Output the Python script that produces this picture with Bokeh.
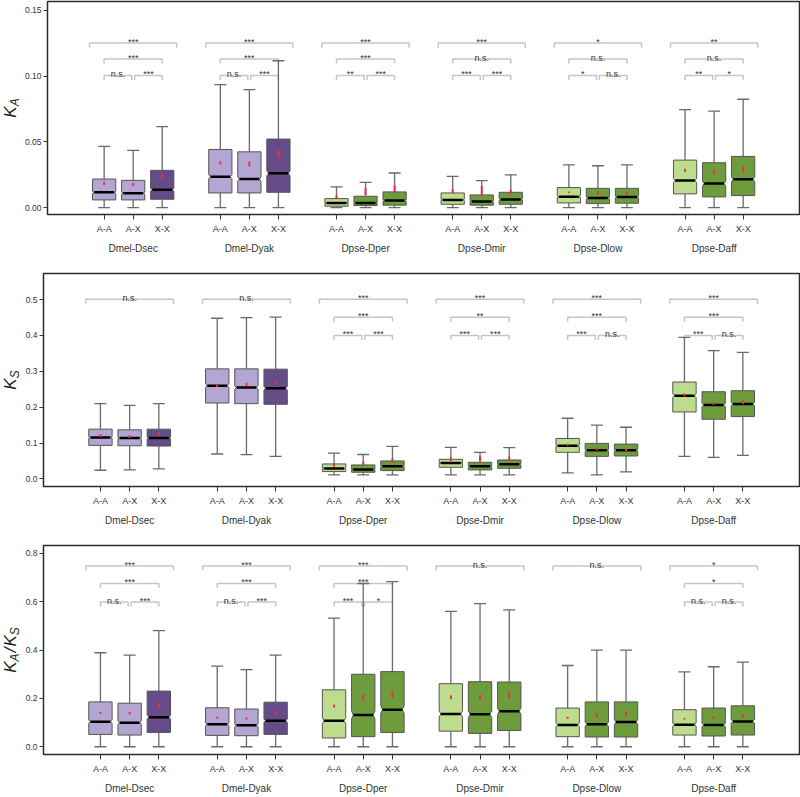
import numpy as np
from bokeh.plotting import figure
from bokeh.models import Range1d, FixedTicker, LinearAxis, NumeralTickFormatter
from bokeh.layouts import column, row
from bokeh.embed import file_html
from bokeh.resources import INLINE
from bokeh.core.properties import value

# ---------------- data ----------------
pairs = ["Dmel-Dsec", "Dmel-Dyak", "Dpse-Dper", "Dpse-Dmir", "Dpse-Dlow", "Dpse-Daff"]
classes = ["A-A", "A-X", "X-X"]
n_genes = [1000, 1000, 600, 600, 600, 600]   # per species pair (estimated, for notches)

# K_A
ka_lo = [0.0] * 18
ka_q1 = [0.0058, 0.0058, 0.0063, 0.0111, 0.0111, 0.0116, 0.0010, 0.0015, 0.0018,
         0.0025, 0.0018, 0.0025, 0.0035, 0.0030, 0.0033, 0.0104, 0.0081, 0.0091]
ka_med = [0.0116, 0.0109, 0.0136, 0.0235, 0.0217, 0.0260, 0.0035, 0.0035, 0.0053,
          0.0058, 0.0045, 0.0061, 0.0083, 0.0073, 0.0081, 0.0205, 0.0182, 0.0215]
ka_q3 = [0.0217, 0.0207, 0.0283, 0.0442, 0.0424, 0.0521, 0.0068, 0.0086, 0.0119,
         0.0111, 0.0096, 0.0116, 0.0152, 0.0146, 0.0146, 0.0361, 0.0341, 0.0389]
ka_hi = [0.0465, 0.0435, 0.0616, 0.0935, 0.0897, 0.1117, 0.0157, 0.0192, 0.0263,
         0.0237, 0.0205, 0.0248, 0.0324, 0.0318, 0.0324, 0.0745, 0.0733, 0.0824]
ka_mean = [0.0184, 0.0177, 0.0237, 0.0339, 0.0333, 0.0407, 0.0078, 0.0121, 0.0142,
           0.0124, 0.0129, 0.0118, 0.0116, 0.0111, 0.0111, 0.0283, 0.0273, 0.0288]
ka_ci = [0.0012, 0.0012, 0.0020, 0.0012, 0.0018, 0.0028, 0.0015, 0.0025, 0.0025,
         0.0018, 0.0035, 0.0018, 0.0006, 0.0012, 0.0012, 0.0012, 0.0020, 0.0022]
ka_sig = [["***", "***", "n.s.", "***"], ["***", "***", "n.s.", "***"],
          ["***", "***", "**", "***"], ["***", "n.s.", "***", "***"],
          ["*", "n.s.", "*", "n.s."], ["**", "n.s.", "**", "*"]]

# K_S
ks_lo = [0.0240, 0.0250, 0.0277, 0.0693, 0.0675, 0.0628, 0.0110, 0.0110, 0.0110,
         0.0110, 0.0110, 0.0110, 0.0166, 0.0110, 0.0194, 0.0628, 0.0600, 0.0656]
ks_q1 = [0.0933, 0.0924, 0.0915, 0.2116, 0.2098, 0.2080, 0.0203, 0.0185, 0.0231,
         0.0323, 0.0250, 0.0296, 0.0740, 0.0628, 0.0638, 0.1866, 0.1663, 0.1737]
ks_med = [0.1155, 0.1137, 0.1137, 0.2597, 0.2550, 0.2530, 0.0286, 0.0259, 0.0351,
          0.0444, 0.0351, 0.0407, 0.0924, 0.0795, 0.0795, 0.2320, 0.2060, 0.2090]
ks_q3 = [0.1386, 0.1368, 0.1386, 0.3068, 0.3068, 0.3060, 0.0416, 0.0388, 0.0500,
         0.0545, 0.0462, 0.0527, 0.1127, 0.0989, 0.0970, 0.2700, 0.2430, 0.2458]
ks_hi = [0.2098, 0.2050, 0.2098, 0.4480, 0.4500, 0.4510, 0.0720, 0.0680, 0.0906,
         0.0878, 0.0740, 0.0870, 0.1690, 0.1497, 0.1440, 0.3945, 0.3576, 0.3530]
ks_mean = [0.121, 0.118, 0.126, 0.260, 0.263, 0.267, 0.038, 0.0425, 0.051,
           0.055, 0.056, 0.056, 0.095, 0.083, 0.081, 0.234, 0.211, 0.215]
ks_ci = [0.004, 0.004, 0.005, 0.004, 0.005, 0.006, 0.004, 0.006, 0.006,
         0.005, 0.008, 0.006, 0.003, 0.004, 0.004, 0.004, 0.005, 0.006]
ks_sig = [["n.s.", None, None, None], ["n.s.", None, None, None],
          ["***", "***", "***", "***"], ["***", "**", "***", "***"],
          ["***", "***", "***", "n.s."], ["***", "***", "***", "n.s."]]

# K_A / K_S
kk_lo = [0.0] * 18
kk_q1 = [0.0511, 0.0484, 0.0592, 0.0470, 0.0457, 0.0511, 0.0363, 0.0417, 0.0592,
         0.0645, 0.0551, 0.0672, 0.0417, 0.0403, 0.0403, 0.0484, 0.0444, 0.0484]
kk_med = [0.1035, 0.0995, 0.1224, 0.0928, 0.0887, 0.1076, 0.1076, 0.1318, 0.1533,
          0.1358, 0.1345, 0.1466, 0.0901, 0.0928, 0.1022, 0.0914, 0.0901, 0.1049]
kk_q3 = [0.1855, 0.1800, 0.2300, 0.1613, 0.1560, 0.1842, 0.2353, 0.2998, 0.3106,
         0.2608, 0.2689, 0.2676, 0.1600, 0.1855, 0.1855, 0.1533, 0.1600, 0.1694]
kk_hi = [0.3886, 0.3790, 0.4800, 0.3334, 0.3186, 0.3790, 0.5320, 0.6750, 0.6830,
         0.5593, 0.5916, 0.5660, 0.3360, 0.3993, 0.3993, 0.3092, 0.3307, 0.3496]
kk_mean = [0.1400, 0.1385, 0.1707, 0.1197, 0.1170, 0.1370, 0.1680, 0.2030, 0.2165,
           0.2044, 0.2040, 0.2150, 0.1197, 0.1304, 0.1358, 0.1156, 0.1210, 0.1277]
kk_ci = [0.004, 0.005, 0.010, 0.004, 0.004, 0.007, 0.006, 0.013, 0.014,
         0.008, 0.011, 0.013, 0.004, 0.008, 0.009, 0.003, 0.006, 0.007]
kk_sig = [["***", "***", "n.s.", "***"], ["***", "***", "n.s.", "***"],
          ["***", "***", "***", "*"], ["n.s.", None, None, None],
          ["n.s.", None, None, None], ["*", "*", "n.s.", "n.s."]]

# ---------------- style ----------------
LIGHT_PURPLE, DARK_PURPLE = "#b4a6d2", "#654c88"
LIGHT_GREEN, DARK_GREEN = "#bedc8d", "#6e9c3d"
FONT = "Liberation Sans"
LW = 21                       # width of the y-label strip
W = 800 - LW
BL, BR, BT = 22, 1, 1
FH = 213
X0, X1 = -1.95, 23.94


def box_color(g, k):
    if g < 2:
        return DARK_PURPLE if k == 2 else LIGHT_PURPLE
    return LIGHT_GREEN if k == 0 else DARK_GREEN


def label_strip(H, BB, yrange, pieces):
    """pieces: (text, font px, along-width px, across-centre px); strip frame aligned with panel frame."""
    f = figure(width=LW, height=H, x_range=Range1d(0, LW), y_range=yrange,
               output_backend="svg", toolbar_location=None,
               min_border_left=0, min_border_right=0, min_border_top=BT, min_border_bottom=BB,
               x_axis_location=None, y_axis_location=None,
               background_fill_color="white", border_fill_color="white")
    f.outline_line_color = None
    f.xgrid.visible = False
    f.ygrid.visible = False
    ydpp = (yrange.end - yrange.start) / FH
    mid = (yrange.start + yrange.end) / 2
    total = sum(pw for _, _, pw, _ in pieces)
    pos = -total / 2
    for t, s, pw, c in pieces:
        f.text([c], [mid + (pos + pw / 2) * ydpp], text=[t], angle=np.pi / 2,
               text_font=value(FONT), text_font_size=f"{s}px", text_font_style="italic",
               text_color="#222222", text_align="center", text_baseline="middle")
        pos += pw
    return f


def make_panel(H, BB, lo, q1, med, q3, hi, mean, ci, sig, yrange, yticks, fmt, br_fracs):
    yr = (yrange.start, yrange.end)
    p = figure(width=W, height=H, x_range=Range1d(X0, X1), y_range=yrange,
               output_backend="svg", toolbar_location=None,
               min_border_left=BL, min_border_right=BR, min_border_top=BT, min_border_bottom=BB,
               background_fill_color="white", border_fill_color="white")
    p.xgrid.visible = False
    p.ygrid.visible = False
    p.outline_line_color = "#2b2b2b"
    p.outline_line_width = 1.5

    ydpp = (yr[1] - yr[0]) / FH
    xs_pos = [4 * g + k for g in range(6) for k in range(3)]

    # significance brackets
    bxs, bys, tx, ty, tt = [], [], [], [], []
    tick = 4.6 * ydpp
    yb = [yr[1] - f * (yr[1] - yr[0]) for f in br_fracs]
    for g in range(6):
        spans = [(4 * g - 0.5, 4 * g + 2.5, yb[0]), (4 * g, 4 * g + 2, yb[1]),
                 (4 * g, 4 * g + 0.95, yb[2]), (4 * g + 1.05, 4 * g + 2, yb[2])]
        for lab, (a, b, yy) in zip(sig[g], spans):
            if lab is None:
                continue
            bxs.append([a, a, b, b])
            bys.append([yy - tick, yy, yy, yy - tick])
            tx.append((a + b) / 2)
            ty.append(yy + 1.2 * ydpp)
            tt.append(lab)
    p.multi_line(bxs, bys, line_color="#c6c6c6", line_width=1.5)
    p.text(tx, ty, text=tt, text_align="center", text_baseline="alphabetic",
           text_font=value(FONT), text_font_size="9px", text_color="#333333")

    # boxes
    w, d, cw = 0.4, 0.06, 0.205
    pxs, pys, cols, mx0, mx1 = [], [], [], [], []
    for i, cx in enumerate(xs_pos):
        g, k = divmod(i, 3)
        nh = 1.57 * (q3[i] - q1[i]) / np.sqrt(n_genes[g])
        m = med[i]
        pxs.append([cx - w, cx + w, cx + w, cx + w - d, cx + w, cx + w, cx - w, cx - w, cx - w + d, cx - w])
        pys.append([q1[i], q1[i], m - nh, m, m + nh, q3[i], q3[i], m + nh, m, m - nh])
        cols.append(box_color(g, k))
        mx0.append(cx - w + d)
        mx1.append(cx + w - d)
    wc = "#6a6a6a"
    p.segment(xs_pos, q3, xs_pos, hi, line_color=wc, line_width=1.3)
    p.segment(xs_pos, lo, xs_pos, q1, line_color=wc, line_width=1.3)
    p.segment([x - cw for x in xs_pos], hi, [x + cw for x in xs_pos], hi, line_color=wc, line_width=1.3)
    p.segment([x - cw for x in xs_pos], lo, [x + cw for x in xs_pos], lo, line_color=wc, line_width=1.3)
    p.patches(pxs, pys, fill_color=cols, line_color="#555555", line_width=1)
    p.segment(mx0, med, mx1, med, line_color="black", line_width=2.5)
    p.segment(xs_pos, [m - c for m, c in zip(mean, ci)], xs_pos, [m + c for m, c in zip(mean, ci)],
              line_color="#e8333c", line_width=2)

    # x axes
    xa = p.xaxis[0]
    xa.ticker = FixedTicker(ticks=xs_pos)
    xa.major_label_overrides = {x: classes[x % 4] for x in xs_pos}
    xa.axis_line_color = None
    xa.major_tick_in = 0
    xa.major_tick_out = 5
    xa.major_tick_line_color = "#333333"
    xa.minor_tick_line_color = None
    xa.major_label_standoff = 4
    xa.major_label_text_font = FONT
    xa.major_label_text_font_size = "9px"
    xa.major_label_text_color = "#333333"

    gcent = [4 * g + 1 for g in range(6)]
    ga = LinearAxis(ticker=FixedTicker(ticks=gcent),
                    major_label_overrides={c: pairs[i] for i, c in enumerate(gcent)})
    ga.axis_line_color = None
    ga.major_tick_in = 0
    ga.major_tick_out = 0
    ga.minor_tick_line_color = None
    ga.major_label_standoff = 6
    ga.major_label_text_font = FONT
    ga.major_label_text_font_size = "10px"
    ga.major_label_text_color = "#333333"
    p.add_layout(ga, "below")

    ya = p.yaxis[0]
    ya.ticker = FixedTicker(ticks=yticks)
    ya.formatter = NumeralTickFormatter(format=fmt)
    ya.axis_line_color = None
    ya.major_tick_in = 0
    ya.major_tick_out = 4
    ya.major_tick_line_color = "#333333"
    ya.minor_tick_line_color = None
    ya.major_label_standoff = 2
    ya.major_label_text_font = FONT
    ya.major_label_text_font_size = "8.5px"
    ya.major_label_text_color = "#333333"
    return p


# label pieces: (text, font px, along width px, across centre px)
lab_ka = [("K", 17, 11.3, 9.5), ("A", 12, 8.0, 14.2)]
lab_ks = [("K", 17, 11.3, 9.5), ("S", 12, 8.0, 14.2)]
lab_kk = [("K", 17, 11.3, 9.5), ("A", 12, 8.0, 14.2), ("/", 17, 7.5, 9.5),
          ("K", 17, 11.3, 9.5), ("S", 12, 8.0, 14.2)]

H1, BB1 = 272, 58
H3, BB3 = 252, 38

yr1 = Range1d(-0.0053, 0.1568)
yr2 = Range1d(-0.0213, 0.5728)
yr3 = Range1d(-0.032, 0.832)

p1 = make_panel(H1, BB1, ka_lo, ka_q1, ka_med, ka_q3, ka_hi, ka_mean, ka_ci, ka_sig,
                yr1, [0, 0.05, 0.10, 0.15], "0.00", (0.195, 0.27, 0.347))
p2 = make_panel(H1, BB1, ks_lo, ks_q1, ks_med, ks_q3, ks_hi, ks_mean, ks_ci, ks_sig,
                yr2, [0, 0.1, 0.2, 0.3, 0.4, 0.5], "0.0", (0.121, 0.205, 0.291))
p3 = make_panel(H3, BB3, kk_lo, kk_q1, kk_med, kk_q3, kk_hi, kk_mean, kk_ci, kk_sig,
                yr3, [0, 0.2, 0.4, 0.6, 0.8], "0.0", (0.098, 0.182, 0.27))

l1 = label_strip(H1, BB1, yr1, lab_ka)
l2 = label_strip(H1, BB1, yr2, lab_ks)
l3 = label_strip(H3, BB3, yr3, lab_kk)

layout = column(row(l1, p1, spacing=0), row(l2, p2, spacing=0), row(l3, p3, spacing=0), spacing=0)
open("out.html", "w").write(file_html(layout, INLINE))
